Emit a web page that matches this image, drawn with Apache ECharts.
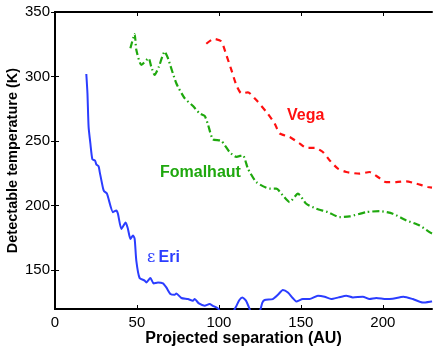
<!DOCTYPE html>
<html>
<head>
<meta charset="utf-8">
<script src="https://cdn.jsdelivr.net/npm/echarts@6/dist/echarts.min.js"></script>
<style>
  html, body { margin: 0; padding: 0; background: #fff; }
  #chart { width: 436px; height: 349px; }
</style>
</head>
<body>
<div id="chart"></div>
<script>
// [separation AU, temperature K]
const epsEri = [
  [19.1, 302], [19.8, 287], [20.5, 261], [21.6, 248], [22.8, 236], [24.4, 235],
  [25.2, 232], [26.6, 230.5], [27.3, 226], [29.3, 213.5], [29.9, 211.3], [31.7, 209.3],
  [35.4, 195], [37.4, 196.3], [38.4, 193.8], [40.5, 182], [43.1, 187], [44.5, 182],
  [46, 174.3], [47.6, 177], [48.6, 174.3], [49.6, 157.5], [51.6, 144], [54.7, 142],
  [55.7, 140.6], [58.2, 144], [60.2, 139.8], [62.8, 140.6], [65.9, 139.8], [67.9, 136.7],
  [70.4, 131.6], [73, 131], [74, 132], [77.1, 128.5], [81.1, 127.7], [84.1, 126.4],
  [85.2, 127.7], [87.8, 124.3], [91.3, 122.5], [94.3, 123.8], [96.3, 122.5], [99.4, 120.5],
  [101.5, 116], [105, 112], [108, 116], [110.5, 122], [112.5, 127], [114.3, 128.9],
  [116.5, 126.5], [118.7, 120], [120.5, 114], [123.5, 114], [125.4, 120], [126.5, 125],
  [127.9, 127], [132.9, 127.7], [136, 131], [139, 134.7], [142.1, 132.8], [145, 128.5],
  [147.2, 125.8], [151.2, 127.7], [155.3, 127.7], [160.4, 130.3], [164.5, 129.5],
  [168.5, 127.7], [173, 129], [177.7, 130.3], [181.7, 129], [187.8, 129.5], [191.9, 127.7],
  [196, 128.5], [202, 127.7], [206, 128], [212.6, 129.5], [218.3, 127.7], [224.4, 125],
  [229.5, 125.8], [230, 126]
];

const fomalhaut = [
  [46, 322], [48.6, 332.9], [49.6, 320.7], [52.7, 309], [57.1, 314.2], [58.7, 307.7],
  [60.8, 301.3], [63.4, 307.7], [66.9, 319.4], [68.9, 314.2], [74, 294.8], [79.1, 283.2],
  [84.2, 277.2], [88.2, 271.5], [91.3, 269.5], [93.3, 263], [96.3, 251.5], [101.5, 250.2],
  [106.5, 241.6], [110.6, 237.8], [114.6, 239.1], [117.7, 228.7], [122.8, 218.3],
  [130.9, 213.2], [135, 213.2], [139, 208], [143.1, 202.8], [148.2, 209.3], [153.3, 201.5],
  [159.4, 197.7], [166.5, 195], [173.6, 191.2], [179.7, 191.7], [189.9, 195], [198, 195.8],
  [206.1, 193.8], [214.3, 188.6], [222.4, 184.7], [228.5, 179.5], [230, 178.5]
];

const vega = [
  [92.3, 325.4], [96.8, 329.2], [101.5, 327.2], [104.5, 316.8], [107.6, 305.2],
  [110.6, 293.5], [113.7, 287], [117.7, 287.8], [122.8, 281.8], [128.9, 272.7],
  [134, 263.7], [137, 256], [143.1, 253.3], [149.2, 248.2], [153.3, 244.8], [158.4, 244.8],
  [163.4, 241.6], [167.5, 235.2], [172.6, 228.7], [177.7, 226.1], [185.8, 224.8],
  [191.9, 226.1], [197, 222.2], [202, 218.3], [208.2, 218.3], [214.3, 218.9],
  [220.4, 217.1], [227.4, 214.5], [230, 214]
];

const xTicks = [0, 50, 100, 150, 200];
const yTicks = [150, 200, 250, 300, 350];

const FONT = '"Liberation Sans", Arial, Helvetica, sans-serif';
const BLUE = '#2b3dff';
const RED = '#ff1010';
const GREEN = '#1fa80e';

const chart = echarts.init(document.getElementById('chart'), null, { renderer: 'canvas' });

const axisLine = { show: true, lineStyle: { color: '#000', width: 2 } };
const tickStyle = { color: '#000', width: 1 };

chart.setOption({
  animation: false,
  grid: { left: 55, right: 4, top: 12, bottom: 40, outerBoundsMode: 'none', containLabel: false },
  xAxis: [
    {
      type: 'value', min: 0, max: 230,
      axisLine: axisLine, splitLine: { show: false },
      axisTick: { show: true, inside: true, length: 4, lineStyle: tickStyle, customValues: xTicks },
      axisLabel: { color: '#000', fontFamily: FONT, fontSize: 15, margin: 6, customValues: xTicks },
      name: 'Projected separation (AU)', nameLocation: 'middle', nameGap: 22, nameMoveOverlap: false,
      nameTextStyle: { color: '#000', fontFamily: FONT, fontSize: 16, fontWeight: 'bold' }
    },
    {
      type: 'value', position: 'top', min: 0, max: 230,
      axisLine: axisLine, splitLine: { show: false }, axisLabel: { show: false },
      axisTick: { show: true, inside: true, length: 4, lineStyle: tickStyle, customValues: xTicks }
    }
  ],
  yAxis: [
    {
      type: 'value', min: 120, max: 350,
      axisLine: axisLine, splitLine: { show: false },
      axisTick: { show: true, inside: true, length: 4, lineStyle: tickStyle, customValues: yTicks },
      axisLabel: { color: '#000', fontFamily: FONT, fontSize: 15, margin: 5, customValues: yTicks },
      name: 'Detectable temperature (K)', nameLocation: 'middle', nameGap: 35, nameMoveOverlap: false,
      nameTextStyle: { color: '#000', fontFamily: FONT, fontSize: 14.5, fontWeight: 'bold' }
    },
    {
      type: 'value', position: 'right', min: 120, max: 350,
      axisLine: axisLine, splitLine: { show: false }, axisLabel: { show: false },
      axisTick: { show: true, inside: true, length: 4, lineStyle: tickStyle, customValues: yTicks }
    }
  ],
  series: [
    {
      name: 'eps Eri', type: 'line', data: epsEri, showSymbol: false, clip: true,
      smooth: 0.2, lineStyle: { color: BLUE, width: 2 }
    },
    {
      name: 'Fomalhaut', type: 'line', data: fomalhaut, showSymbol: false, clip: true,
      smooth: 0.2, lineStyle: { color: GREEN, width: 2.2, type: [7, 3, 1.5, 3] }
    },
    {
      name: 'Vega', type: 'line', data: vega, showSymbol: false, clip: true,
      smooth: 0.2, lineStyle: { color: RED, width: 2.2, type: [6, 5] }
    }
  ],
  graphic: [
    {
      type: 'text', left: 287, top: 108,
      style: { text: 'Vega', fill: RED, font: 'bold 16px ' + FONT }
    },
    {
      type: 'text', left: 160, top: 165,
      style: { text: 'Fomalhaut', fill: GREEN, font: 'bold 16px ' + FONT }
    },
    {
      type: 'text', left: 147, top: 250,
      style: {
        text: '{e|ε} {b|Eri}',
        rich: {
          e: { fill: BLUE, font: '16px "DejaVu Serif", serif' },
          b: { fill: BLUE, font: 'bold 16px ' + FONT }
        }
      }
    }
  ]
});
</script>
</body>
</html>
